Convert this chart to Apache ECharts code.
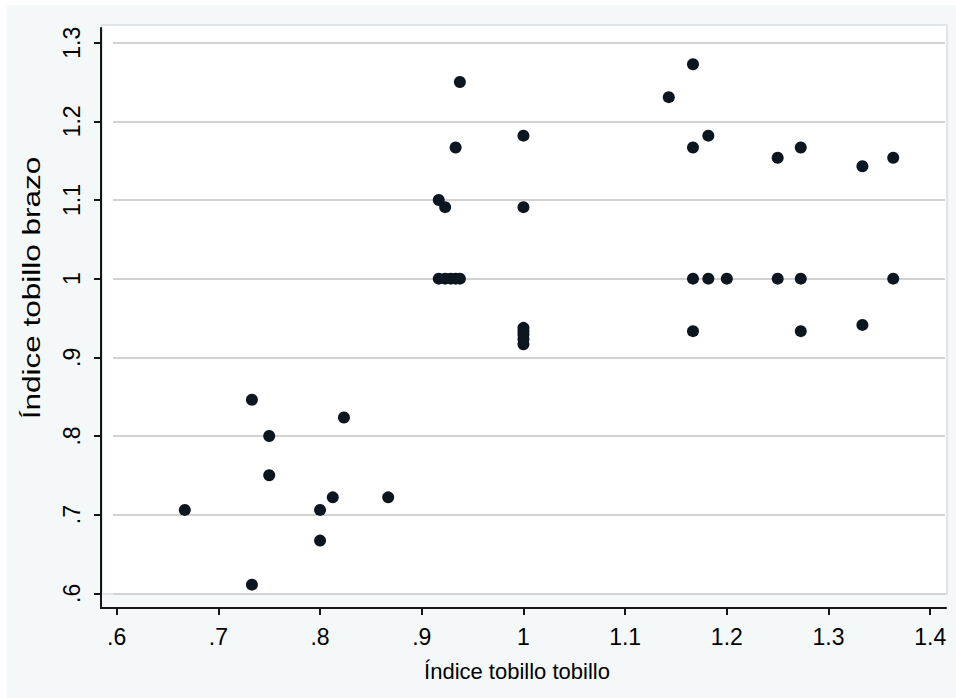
<!DOCTYPE html>
<html>
<head>
<meta charset="utf-8">
<script src="https://cdn.jsdelivr.net/npm/echarts@6/dist/echarts.min.js"></script>
<style>
  html, body { margin: 0; padding: 0; background: #ffffff; }
  #chart { width: 956px; height: 698px; }
</style>
</head>
<body>
<div id="chart"></div>
<script>
// índice tobillo tobillo (x) vs índice tobillo brazo (y)
var xVals = [0.667, 0.733, 0.75, 0.75, 0.8235, 0.8125, 0.867, 0.8, 0.8, 0.733,
  0.9375, 0.9333, 1.0, 0.9167, 0.923, 1.0,
  0.9167, 0.923, 0.9286, 0.9333, 0.9375,
  1.0, 1.0, 1.0, 1.0, 1.0,
  1.1667, 1.1429, 1.1667, 1.1818, 1.25, 1.2727, 1.3333, 1.3636,
  1.1667, 1.1818, 1.2, 1.25, 1.2727, 1.3636,
  1.1667, 1.2727, 1.3333];
var yVals = [0.706, 0.846, 0.8, 0.75, 0.8235, 0.722, 0.722, 0.706, 0.667, 0.611,
  1.25, 1.1667, 1.1818, 1.1, 1.0909, 1.0909,
  1.0, 1.0, 1.0, 1.0, 1.0,
  0.9167, 0.923, 0.9286, 0.9333, 0.9375,
  1.2727, 1.2308, 1.1667, 1.1818, 1.1538, 1.1667, 1.1429, 1.1538,
  1.0, 1.0, 1.0, 1.0, 1.0, 1.0,
  0.9333, 0.9333, 0.9412];

var xTicks = [0.6, 0.7, 0.8, 0.9, 1.0, 1.1, 1.2, 1.3, 1.4];
var xTickLabels = ['.6', '.7', '.8', '.9', '1', '1.1', '1.2', '1.3', '1.4'];
var yTicks = [0.6, 0.7, 0.8, 0.9, 1.0, 1.1, 1.2, 1.3];
var yTickLabels = ['.6', '.7', '.8', '.9', '1', '1.1', '1.2', '1.3'];

var xTitle = 'Índice tobillo tobillo';
var yTitle = 'Índice tobillo brazo';

var points = [];
for (var i = 0; i < xVals.length; i++) points.push([xVals[i], yVals[i]]);

function tickText(ticks, labels) {
  return function (v) {
    for (var k = 0; k < ticks.length; k++) {
      if (Math.abs(ticks[k] - v) < 1e-6) return labels[k];
    }
    return '';
  };
}

var font = '"Liberation Sans", Arial, sans-serif';
var chart = echarts.init(document.getElementById('chart'), null, { renderer: 'svg' });

var option = {
  animation: false,
  backgroundColor: '#ffffff',
  graphic: [
    { type: 'rect', z: -20, silent: true, shape: { x: 7, y: 5, width: 949, height: 693 }, style: { fill: '#f5f8f9' } },
    { type: 'rect', z: -19, silent: true, shape: { x: 102, y: 25, width: 845, height: 569 }, style: { fill: '#ffffff', stroke: '#e2e5e7', lineWidth: 2 } },
    {
      type: 'text', x: 517, y: 671, silent: true,
      style: { text: xTitle, font: '22px ' + font, fill: '#000', align: 'center', verticalAlign: 'middle' }
    },
    {
      type: 'text', x: 32, y: 288, rotation: Math.PI / 2, scaleX: 1.37, silent: true,
      style: { text: yTitle, font: '23px ' + font, fill: '#000', align: 'center', verticalAlign: 'middle' }
    }
  ],
  grid: [
    { left: 101, right: 10, top: 28, bottom: 90 },
    { left: 113, right: 11, top: 42.7, bottom: 104.7 }
  ],
  xAxis: [{
    gridIndex: 0, type: 'value', min: 0.5846, max: 1.4155,
    splitLine: { show: false },
    axisLine: { show: true, onZero: false, lineStyle: { color: '#161616', width: 2 } },
    axisTick: { show: true, length: 7, customValues: xTicks, lineStyle: { color: '#161616', width: 2 } },
    axisLabel: { customValues: xTicks, formatter: tickText(xTicks, xTickLabels), margin: 17, fontSize: 23, fontFamily: font, color: '#000' }
  }, {
    gridIndex: 1, type: 'value', min: 0.6, max: 1.4, show: false
  }],
  yAxis: [{
    gridIndex: 0, type: 'value', min: 0.5813, max: 1.3187,
    splitLine: { show: false },
    axisLine: { show: true, onZero: false, lineStyle: { color: '#161616', width: 2 } },
    axisTick: { show: true, length: 7, customValues: yTicks, lineStyle: { color: '#161616', width: 2 } },
    axisLabel: { customValues: yTicks, formatter: tickText(yTicks, yTickLabels), rotate: 90, margin: 18, fontSize: 23, fontFamily: font, color: '#000' }
  }, {
    gridIndex: 1, type: 'value', min: 0.6, max: 1.3, interval: 0.1,
    axisLine: { show: false }, axisTick: { show: false }, axisLabel: { show: false },
    splitLine: { show: true, lineStyle: { color: '#d2d2d2', width: 2 } }
  }],
  series: [{
    type: 'scatter',
    xAxisIndex: 0, yAxisIndex: 0,
    data: points,
    symbol: 'circle',
    symbolSize: 12,
    itemStyle: { color: '#0b1620', opacity: 1 },
    z: 5
  }]
};
chart.setOption(option);
</script>
</body>
</html>
